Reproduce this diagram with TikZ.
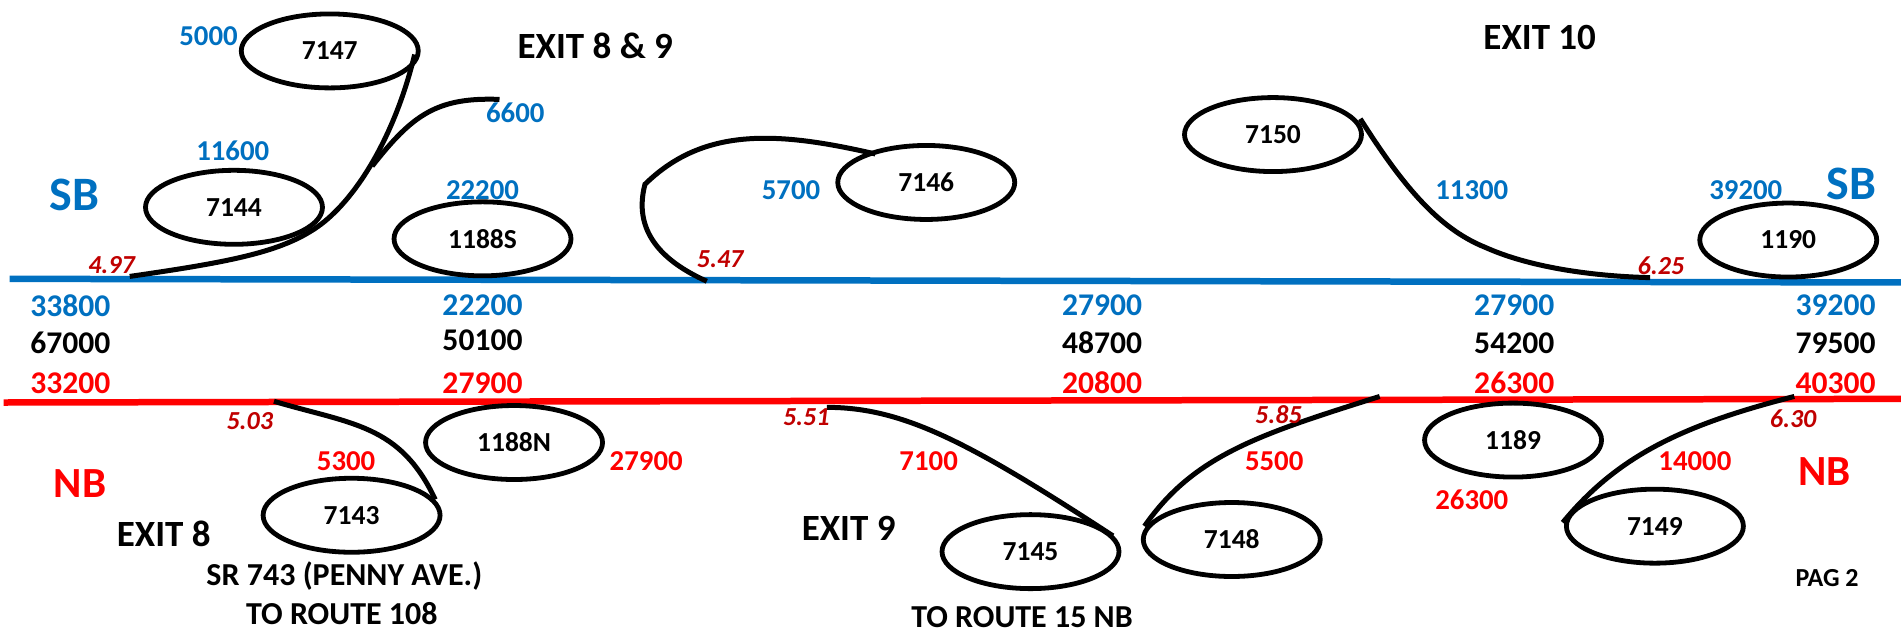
\documentclass[tikz,border=0pt]{standalone}
\usepackage{fontspec}
\setmainfont{Carlito}[BoldFont={Carlito Bold}]
\usetikzlibrary{shapes.geometric}
\definecolor{sbblue}{HTML}{0070C0}
\definecolor{nbred}{HTML}{FF0000}
\definecolor{mpred}{HTML}{C00000}
\tikzset{
 el/.style={draw=black,line width=4.8pt,ellipse,minimum width=177pt,minimum height=74pt,inner sep=0pt,font=\fontsize{27.5}{28}\selectfont\bfseries},
 rd/.style={draw=black,line width=5pt},
 lab/.style={inner sep=0pt,font=\fontsize{28.8}{29}\selectfont\bfseries},
 big/.style={inner sep=0pt,font=\fontsize{31.6}{32}\selectfont\bfseries},
 bl/.style={lab,text=sbblue}, rl/.style={lab,text=nbred},
 bbig/.style={big,text=sbblue}, rbig/.style={big,text=nbred}, kbig/.style={big,text=black},
 dirs/.style={inner sep=0pt,text=sbblue,font=\fontsize{48}{48}\selectfont\bfseries},
 dirn/.style={inner sep=0pt,text=nbred,font=\fontsize{43}{43}\selectfont\bfseries},
 mp/.style={inner sep=0pt,text=mpred,font=\fontsize{26}{26}\selectfont\bfseries\itshape},
 ex/.style={inner sep=0pt,font=\fontsize{37}{37}\selectfont\bfseries},
 st/.style={inner sep=0pt,font=\fontsize{32}{32}\selectfont\bfseries}
}
\begin{document}
\begin{tikzpicture}[x=1.2125pt,y=-1.2125pt]
\useasboundingbox (0,0) rectangle (1568,525.4);
% mainlines
\coordinate (sbw) at (8,230); \coordinate (sbe) at (1568,233);
\coordinate (nbw) at (3,332); \coordinate (nbe) at (1568,329);
\draw[sbblue,line width=6.5pt] (sbw) -- (sbe);
\draw[nbred,line width=6.5pt] (nbw) -- (nbe);
% ellipses
\node[el] (e7147) at (272,42) {7147};
\node[el] (e7144) at (193,171) {7144};
\node[el] (e1188S) at (398,197) {1188S};
\node[el] (e7146) at (764,150.5) {7146};
\node[el] (e7150) at (1050,111) {7150};
\node[el] (e1190) at (1475,198) {1190};
\node[el] (e1188N) at (424,365) {1188N};
\node[el] (e7143) at (290,425) {7143};
\node[el] (e7145) at (850,455) {7145};
\node[el] (e7148) at (1016,445) {7148};
\node[el] (e1189) at (1248,363) {1189};
\node[el] (e7149) at (1365,434) {7149};
% ramp points
\coordinate (a) at (107,228); \coordinate (a1) at (262,187); \coordinate (a2) at (342,45);
\coordinate (b) at (307,137); \coordinate (b1) at (412,82);
\coordinate (c) at (532,152); \coordinate (c1) at (722,127); \coordinate (c2) at (583,232);
\coordinate (d) at (1122,98); \coordinate (d1) at (1225,204); \coordinate (d2) at (1361,229);
\coordinate (f) at (226,331); \coordinate (f1) at (359,412);
\coordinate (g) at (682,336); \coordinate (g1) at (918,442);
\coordinate (h) at (944,434); \coordinate (h2) at (1138,327);
\coordinate (i) at (1289,431); \coordinate (i2) at (1480,327);
% ramps
\draw[rd] (a) .. controls (190,216) and (232,208) .. (a1) .. controls (292,166) and (325,115) .. (a2);
\draw[rd] (b) .. controls (340,95) and (360,80) .. (b1);
\draw[rd] (c1) .. controls (640,108) and (580,105) .. (c) .. controls (522,190) and (545,215) .. (c2);
\draw[rd] (d) .. controls (1155,150) and (1185,188) .. (d1) .. controls (1265,222) and (1320,228) .. (d2);
\draw[rd] (f) .. controls (290,350) and (330,350) .. (f1);
\draw[rd] (g) .. controls (745,336) and (800,365) .. (g1);
\draw[rd] (h) .. controls (985,375) and (1040,358) .. (h2);
\draw[rd] (i) .. controls (1335,375) and (1390,350) .. (i2);
% labels
\node[bl] (t1) at (172,30) {5000};
\node[bl] (t2) at (425,93) {6600};
\node[bl] (t3) at (192,124) {11600};
\node[bl] (t4) at (398,157) {22200};
\node[bl] (t5) at (652.5,157) {5700};
\node[bl] (t6) at (1214,157) {11300};
\node[bl] (t7) at (1440,157) {39200};
\node[dirs] (t8) at (61.5,161) {SB};
\node[dirs] (t9) at (1527,152) {SB};
\node[dirn] (t10) at (66,399) {NB};
\node[dirn] (t11) at (1505,389) {NB};
\node[ex] (t12) at (491,38) {EXIT 8 \& 9};
\node[ex] (t13) at (1270,31) {EXIT 10};
\node[ex] (t14) at (135,440) {EXIT 8};
\node[ex] (t15) at (700,436) {EXIT 9};
\node[st] (t16) at (284,475) {SR 743 (PENNY AVE.)};
\node[st] (t17) at (282,506) {TO ROUTE 108};
\node[st] (t18) at (843,509) {TO ROUTE 15 NB};
\node[inner sep=0pt,font=\fontsize{26}{26}\selectfont\bfseries] (t19) at (1507,477) {PAG 2};
\node[mp] (m1) at (92,219) {4.97};
\node[mp] (m2) at (594,214) {5.47};
\node[mp] (m3) at (1370,219) {6.25};
\node[mp] (m4) at (206,347) {5.03};
\node[mp] (m5) at (665,344) {5.51};
\node[mp] (m6) at (1054.5,342) {5.85};
\node[mp] (m7) at (1479,345) {6.30};
\node[bbig] (s1) at (58,252) {33800};
\node[bbig] (s2) at (398,252) {22200};
\node[bbig] (s3) at (909,252) {27900};
\node[bbig] (s4) at (1249,252) {27900};
\node[bbig] (s5) at (1514,252) {39200};
\node[kbig] (k1) at (58,283) {67000};
\node[kbig] (k2) at (398,281) {50100};
\node[kbig] (k3) at (909,283) {48700};
\node[kbig] (k4) at (1249,283) {54200};
\node[kbig] (k5) at (1514,283) {79500};
\node[rbig] (r1) at (58,316) {33200};
\node[rbig] (r2) at (398,316) {27900};
\node[rbig] (r3) at (909,316) {20800};
\node[rbig] (r4) at (1249,316) {26300};
\node[rbig] (r5) at (1514,316) {40300};
\node[rl] (n1) at (533,380) {27900};
\node[rl] (n2) at (285.5,380) {5300};
\node[rl] (n3) at (766,380) {7100};
\node[rl] (n4) at (1051,380) {5500};
\node[rl] (n5) at (1398,380) {14000};
\node[rl] (n6) at (1214,412) {26300};
\end{tikzpicture}
\end{document}
